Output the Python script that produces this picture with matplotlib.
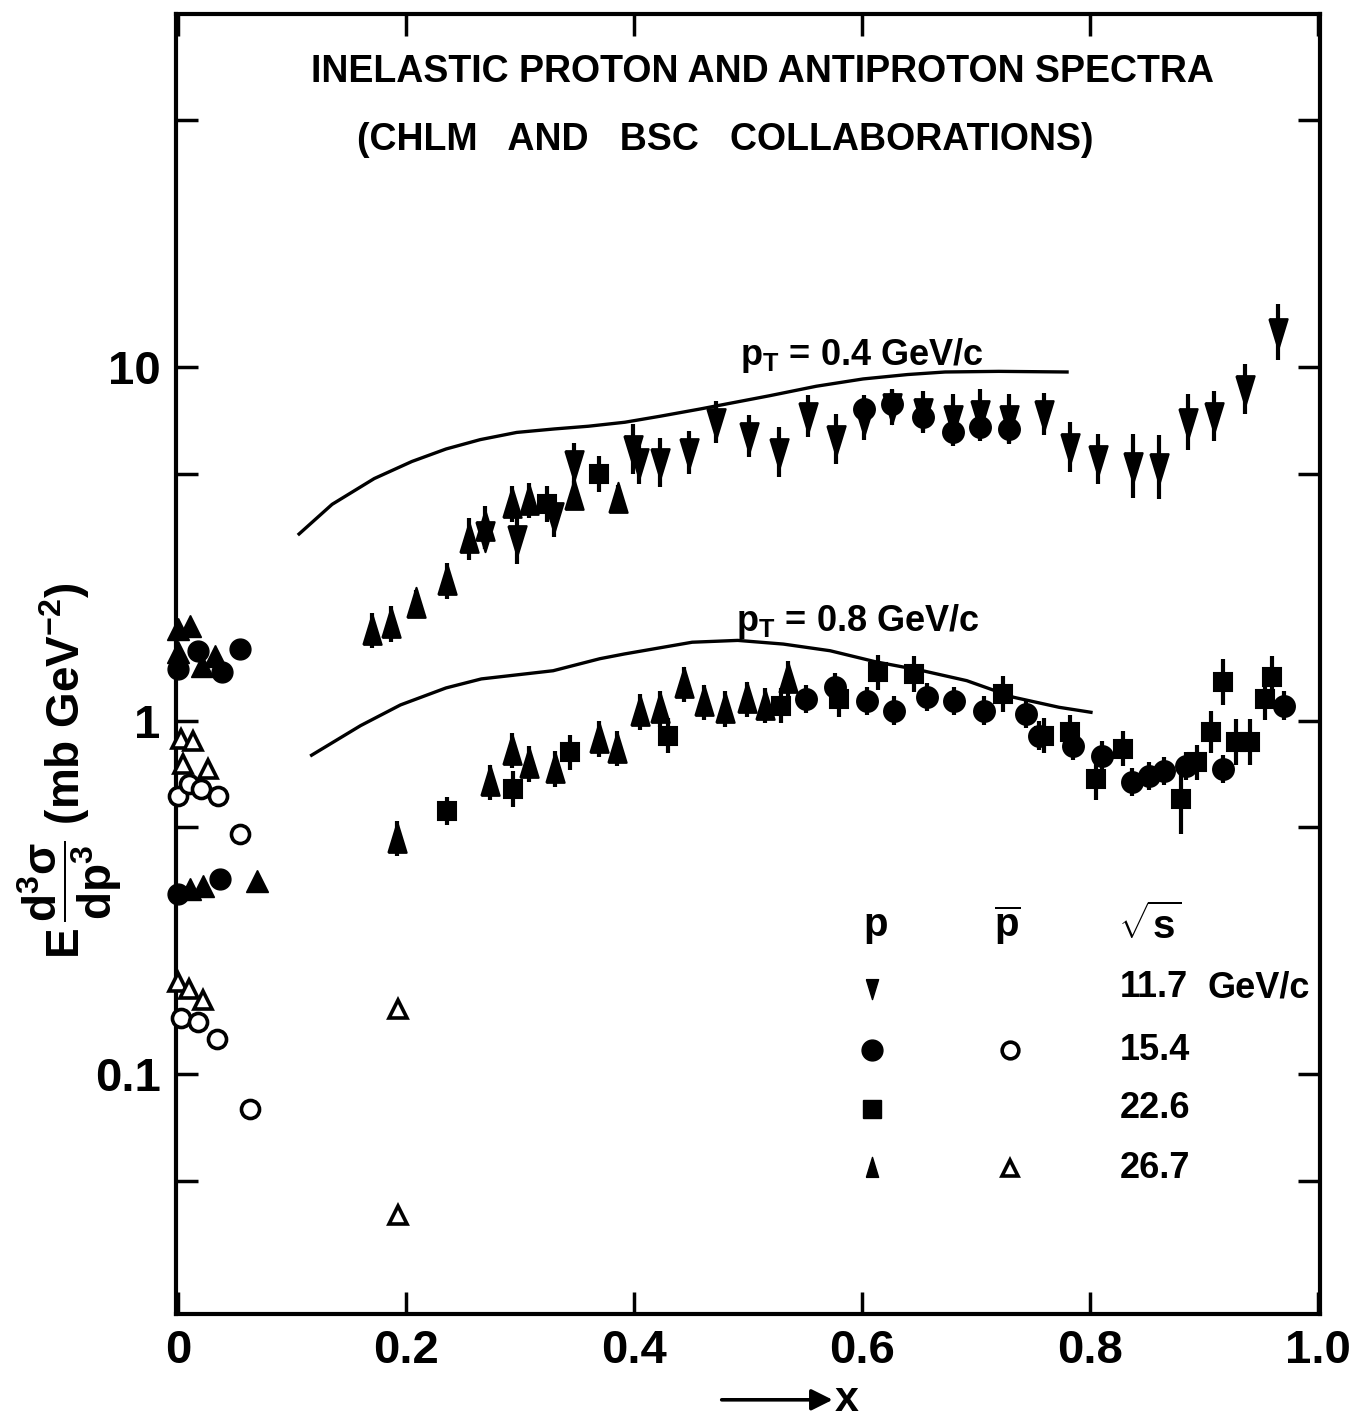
import numpy as np
import matplotlib.pyplot as plt
from matplotlib.ticker import FixedLocator, FixedFormatter, NullLocator

plt.rcParams['font.family'] = ['Liberation Sans', 'DejaVu Sans']
plt.rcParams['font.weight'] = 'bold'
plt.rcParams['mathtext.fontset'] = 'custom'
plt.rcParams['mathtext.rm'] = 'Liberation Sans:bold'
plt.rcParams['mathtext.it'] = 'Liberation Sans:bold'
plt.rcParams['mathtext.bf'] = 'Liberation Sans:bold'

# ---- pT = 0.4 GeV/c (upper group) ----
hi_117_x = [0.269, 0.297, 0.330, 0.347, 0.399, 0.404, 0.423, 0.448, 0.472, 0.501,
            0.527, 0.553, 0.577, 0.602, 0.626, 0.654, 0.680, 0.704, 0.729, 0.760,
            0.783, 0.807, 0.838, 0.861, 0.886, 0.909, 0.936, 0.965]
hi_117_y = [3.35, 3.27, 3.81, 5.33, 5.88, 5.39, 5.39, 5.75, 7.01, 6.40,
            5.77, 7.29, 6.28, 7.15, 7.73, 7.48, 7.15, 7.38, 7.15, 7.38,
            5.96, 5.51, 5.26, 5.23, 7.01, 7.29, 8.69, 12.6]
hi_117_e = [0.04, 0.07, 0.06, 0.06, 0.07, 0.06, 0.07, 0.06, 0.06, 0.06,
            0.07, 0.06, 0.07, 0.06, 0.05, 0.06, 0.07, 0.07, 0.07, 0.06,
            0.07, 0.07, 0.09, 0.09, 0.08, 0.07, 0.07, 0.08]

hi_154_x = [0.602, 0.626, 0.654, 0.680, 0.704, 0.729]
hi_154_y = [7.63, 7.88, 7.25, 6.57, 6.79, 6.70]
hi_154_e = [0.04, 0.04, 0.04, 0.04, 0.04, 0.04]

hi_226_x = [0.324, 0.369]
hi_226_y = [4.11, 5.00]
hi_226_e = [0.05, 0.05]

hi_267_x = [0.170, 0.187, 0.209, 0.236, 0.255, 0.269, 0.293, 0.308, 0.347, 0.386]
hi_267_y = [1.80, 1.88, 2.14, 2.49, 3.27, 3.53, 4.11, 4.20, 4.34, 4.25]
hi_267_e = [0.05, 0.05, 0.04, 0.05, 0.06, 0.06, 0.05, 0.05, 0.04, 0.04]

# ---- pT = 0.8 GeV/c (lower group) ----
lo_267_x = [0.192, 0.274, 0.293, 0.308, 0.331, 0.369, 0.385, 0.405, 0.423, 0.444,
            0.461, 0.480, 0.499, 0.515, 0.535]
lo_267_y = [0.464, 0.671, 0.824, 0.756, 0.731, 0.889, 0.834, 1.06, 1.08, 1.27,
            1.13, 1.08, 1.15, 1.105, 1.315]
lo_267_e = [0.05, 0.05, 0.05, 0.05, 0.05, 0.05, 0.05, 0.05, 0.05, 0.05,
            0.05, 0.05, 0.05, 0.05, 0.05]

lo_226_x = [0.236, 0.294, 0.344, 0.430, 0.529, 0.580, 0.614, 0.646, 0.724, 0.760,
            0.783, 0.805, 0.829, 0.880, 0.894, 0.906, 0.917, 0.928, 0.941, 0.954, 0.960]
lo_226_y = [0.557, 0.642, 0.815, 0.909, 1.105, 1.154, 1.373, 1.358, 1.192, 0.909,
            0.929, 0.685, 0.834, 0.602, 0.764, 0.929, 1.287, 0.870, 0.870, 1.154, 1.329]
lo_226_e = [0.04, 0.05, 0.05, 0.05, 0.05, 0.05, 0.05, 0.05, 0.05, 0.05,
            0.05, 0.06, 0.05, 0.10, 0.05, 0.06, 0.065, 0.065, 0.065, 0.06, 0.06]

lo_154_x = [0.551, 0.576, 0.604, 0.628, 0.657, 0.681, 0.707, 0.744, 0.755, 0.785,
            0.811, 0.837, 0.852, 0.865, 0.884, 0.917, 0.970]
lo_154_y = [1.154, 1.245, 1.141, 1.07, 1.167, 1.141, 1.07, 1.047, 0.909, 0.852,
            0.798, 0.671, 0.700, 0.723, 0.747, 0.731, 1.105]
lo_154_e = [0.04, 0.04, 0.04, 0.04, 0.04, 0.04, 0.04, 0.04, 0.04, 0.04,
            0.04, 0.04, 0.04, 0.04, 0.04, 0.04, 0.04]

# ---- points near x = 0 (no error bars) ----
z_267_x = [0.0, 0.0105, 0.0, 0.0208, 0.0325, 0.0105, 0.022, 0.0693]
z_267_y = [1.82, 1.86, 1.57, 1.43, 1.53, 0.335, 0.341, 0.353]
z_154_x = [0.0, 0.0175, 0.038, 0.054, 0.0, 0.037]
z_154_y = [1.40, 1.58, 1.38, 1.60, 0.324, 0.357]
zb_267_x = [0.002, 0.013, 0.004, 0.026, 0.0, 0.009, 0.022, 0.193, 0.193]
zb_267_y = [0.889, 0.878, 0.756, 0.732, 0.183, 0.175, 0.162, 0.153, 0.040]
zb_154_x = [0.0, 0.009, 0.020, 0.035, 0.054, 0.002, 0.017, 0.034, 0.063]
zb_154_y = [0.614, 0.664, 0.642, 0.614, 0.479, 0.144, 0.141, 0.126, 0.080]

# ---- model curves ----
c04_x = [0.106, 0.135, 0.172, 0.205, 0.235, 0.265, 0.297, 0.330, 0.360, 0.392,
         0.423, 0.458, 0.519, 0.560, 0.601, 0.640, 0.673, 0.720, 0.780]
c04_y = [3.38, 4.1, 4.85, 5.42, 5.88, 6.25, 6.55, 6.7, 6.82, 7.0,
         7.28, 7.63, 8.32, 8.85, 9.28, 9.55, 9.71, 9.75, 9.71]
c08_x = [0.117, 0.160, 0.195, 0.235, 0.266, 0.329, 0.370, 0.3915, 0.451, 0.491,
         0.531, 0.572, 0.612, 0.652, 0.692, 0.733, 0.773, 0.801]
c08_y = [0.80, 0.97, 1.11, 1.24, 1.315, 1.387, 1.50, 1.547, 1.67, 1.69,
         1.65, 1.58, 1.47, 1.39, 1.30, 1.167, 1.093, 1.058]

legend_rows = ["11.7", "15.4", "22.6", "26.7"]

# tall narrow triangles like the hand-drawn ones
down_tri = [(-0.55, 0.8), (0.55, 0.8), (0.0, -1.0), (-0.55, 0.8)]
up_tri = [(-0.55, -0.8), (0.55, -0.8), (0.0, 1.0), (-0.55, -0.8)]

fig = plt.figure(figsize=(13.68, 14.19), dpi=100)
ax = fig.add_axes([176 / 1368, 1 - 1314 / 1419, 1144 / 1368, 1300 / 1419])
ax.set_yscale('log')
ax.set_xlim(-0.002, 1.002)
ax.set_ylim(0.021, 100)


def draw(x, y, e, marker, ms, face='k'):
    x = np.array(x)
    y = np.array(y)
    e = np.array(e)
    yerr = [y - y * 10 ** (-e), y * 10 ** e - y]
    ax.errorbar(x, y, yerr=yerr, fmt='none', ecolor='k', elinewidth=3.0, capsize=0, zorder=2)
    ax.plot(x, y, linestyle='none', marker=marker, ms=ms, mfc=face, mec='k', mew=1.5, zorder=3)


draw(hi_117_x, hi_117_y, hi_117_e, down_tri, 24)
draw(hi_154_x, hi_154_y, hi_154_e, 'o', 15)
draw(hi_226_x, hi_226_y, hi_226_e, 's', 13)
draw(hi_267_x, hi_267_y, hi_267_e, up_tri, 24)

draw(lo_267_x, lo_267_y, lo_267_e, up_tri, 24)
draw(lo_226_x, lo_226_y, lo_226_e, 's', 13)
draw(lo_154_x, lo_154_y, lo_154_e, 'o', 15)

ax.plot(z_267_x, z_267_y, linestyle='none', marker='^', ms=16, color='k', clip_on=False, zorder=3)
ax.plot(z_154_x, z_154_y, linestyle='none', marker='o', ms=15, color='k', clip_on=False, zorder=3)
ax.plot(zb_267_x, zb_267_y, linestyle='none', marker='^', ms=13, mfc='white', mec='k', mew=2.6,
        clip_on=False, zorder=3)
ax.plot(zb_154_x, zb_154_y, linestyle='none', marker='o', ms=13, mfc='white', mec='k', mew=2.6,
        clip_on=False, zorder=3)

ax.plot(c04_x, c04_y, color='k', lw=2.4, zorder=1)
ax.plot(c08_x, c08_y, color='k', lw=2.4, zorder=1)

ax.text(0.493, 0.737, r"p$_{\mathrm{T}}$ = 0.4 GeV/c", transform=ax.transAxes,
        fontsize=26, fontweight='bold', va='center', ha='left')
ax.text(0.4895, 0.533, r"p$_{\mathrm{T}}$ = 0.8 GeV/c", transform=ax.transAxes,
        fontsize=26, fontweight='bold', va='center', ha='left')

ax.text(0.513, 0.955, "INELASTIC PROTON AND ANTIPROTON SPECTRA", transform=ax.transAxes,
        fontsize=27, fontweight='bold', ha='center', va='center')
ax.text(0.48, 0.903, "(CHLM   AND   BSC   COLLABORATIONS)", transform=ax.transAxes,
        fontsize=27, fontweight='bold', ha='center', va='center')

# legend table
ax.text(0.612, 0.299, "p", transform=ax.transAxes, fontsize=29, ha='center', va='center')
ax.text(0.727, 0.299, r"$\overline{\mathrm{p}}$", transform=ax.transAxes, fontsize=29,
        ha='center', va='center')
ax.text(0.851, 0.299, r"$\sqrt{\mathrm{s}}$", transform=ax.transAxes, fontsize=29,
        ha='center', va='center')
row_y = [0.251, 0.203, 0.158, 0.112]
ax.plot(0.608, row_y[0], marker=down_tri, ms=16, color='k', transform=ax.transAxes)
ax.plot(0.608, row_y[1], marker='o', ms=15, color='k', transform=ax.transAxes)
ax.plot(0.608, row_y[2], marker='s', ms=13, color='k', transform=ax.transAxes)
ax.plot(0.608, row_y[3], marker=up_tri, ms=16, color='k', transform=ax.transAxes)
ax.plot(0.729, row_y[1], marker='o', ms=12, mfc='white', mec='k', mew=2.6, transform=ax.transAxes)
ax.plot(0.729, row_y[3], marker='^', ms=12, mfc='white', mec='k', mew=2.6, transform=ax.transAxes)
for lab, yy in zip(legend_rows, row_y):
    ax.text(0.825, yy, lab, transform=ax.transAxes, fontsize=26, ha='left', va='center')
ax.text(0.902, row_y[0], "GeV/c", transform=ax.transAxes, fontsize=26, ha='left', va='center')

# axis labels
ax.text(-0.093, 0.418, r"E$\,\dfrac{\mathrm{d^3\sigma}}{\mathrm{dp^3}}$ (mb GeV$^{-2}$)",
        transform=ax.transAxes, fontsize=33, rotation=90, ha='center', va='center')
ax.annotate("", xy=(0.574, -0.066), xytext=(0.477, -0.066), xycoords='axes fraction',
            arrowprops=dict(arrowstyle='-|>', lw=2.6, color='k', mutation_scale=32,
                            shrinkA=0, shrinkB=0))
ax.text(0.576, -0.066, "x", transform=ax.transAxes, fontsize=31, ha='left', va='center')

# ticks
ax.xaxis.set_major_locator(FixedLocator([0, 0.2, 0.4, 0.6, 0.8, 1.0]))
ax.xaxis.set_major_formatter(FixedFormatter(["0", "0.2", "0.4", "0.6", "0.8", "1.0"]))
ax.yaxis.set_major_locator(FixedLocator([0.05, 0.1, 0.5, 1, 5, 10, 50]))
ax.yaxis.set_major_formatter(FixedFormatter(["", "0.1", "", "1", "", "10", ""]))
ax.yaxis.set_minor_locator(NullLocator())
ax.xaxis.set_minor_locator(NullLocator())
ax.tick_params(axis='both', which='major', direction='in', length=16, width=2.5,
               top=True, right=True, labelsize=34, pad=11)
for lab in ax.get_xticklabels() + ax.get_yticklabels():
    lab.set_fontweight('bold')
for sp in ax.spines.values():
    sp.set_linewidth(3)

fig.savefig("out.png", dpi=100)
